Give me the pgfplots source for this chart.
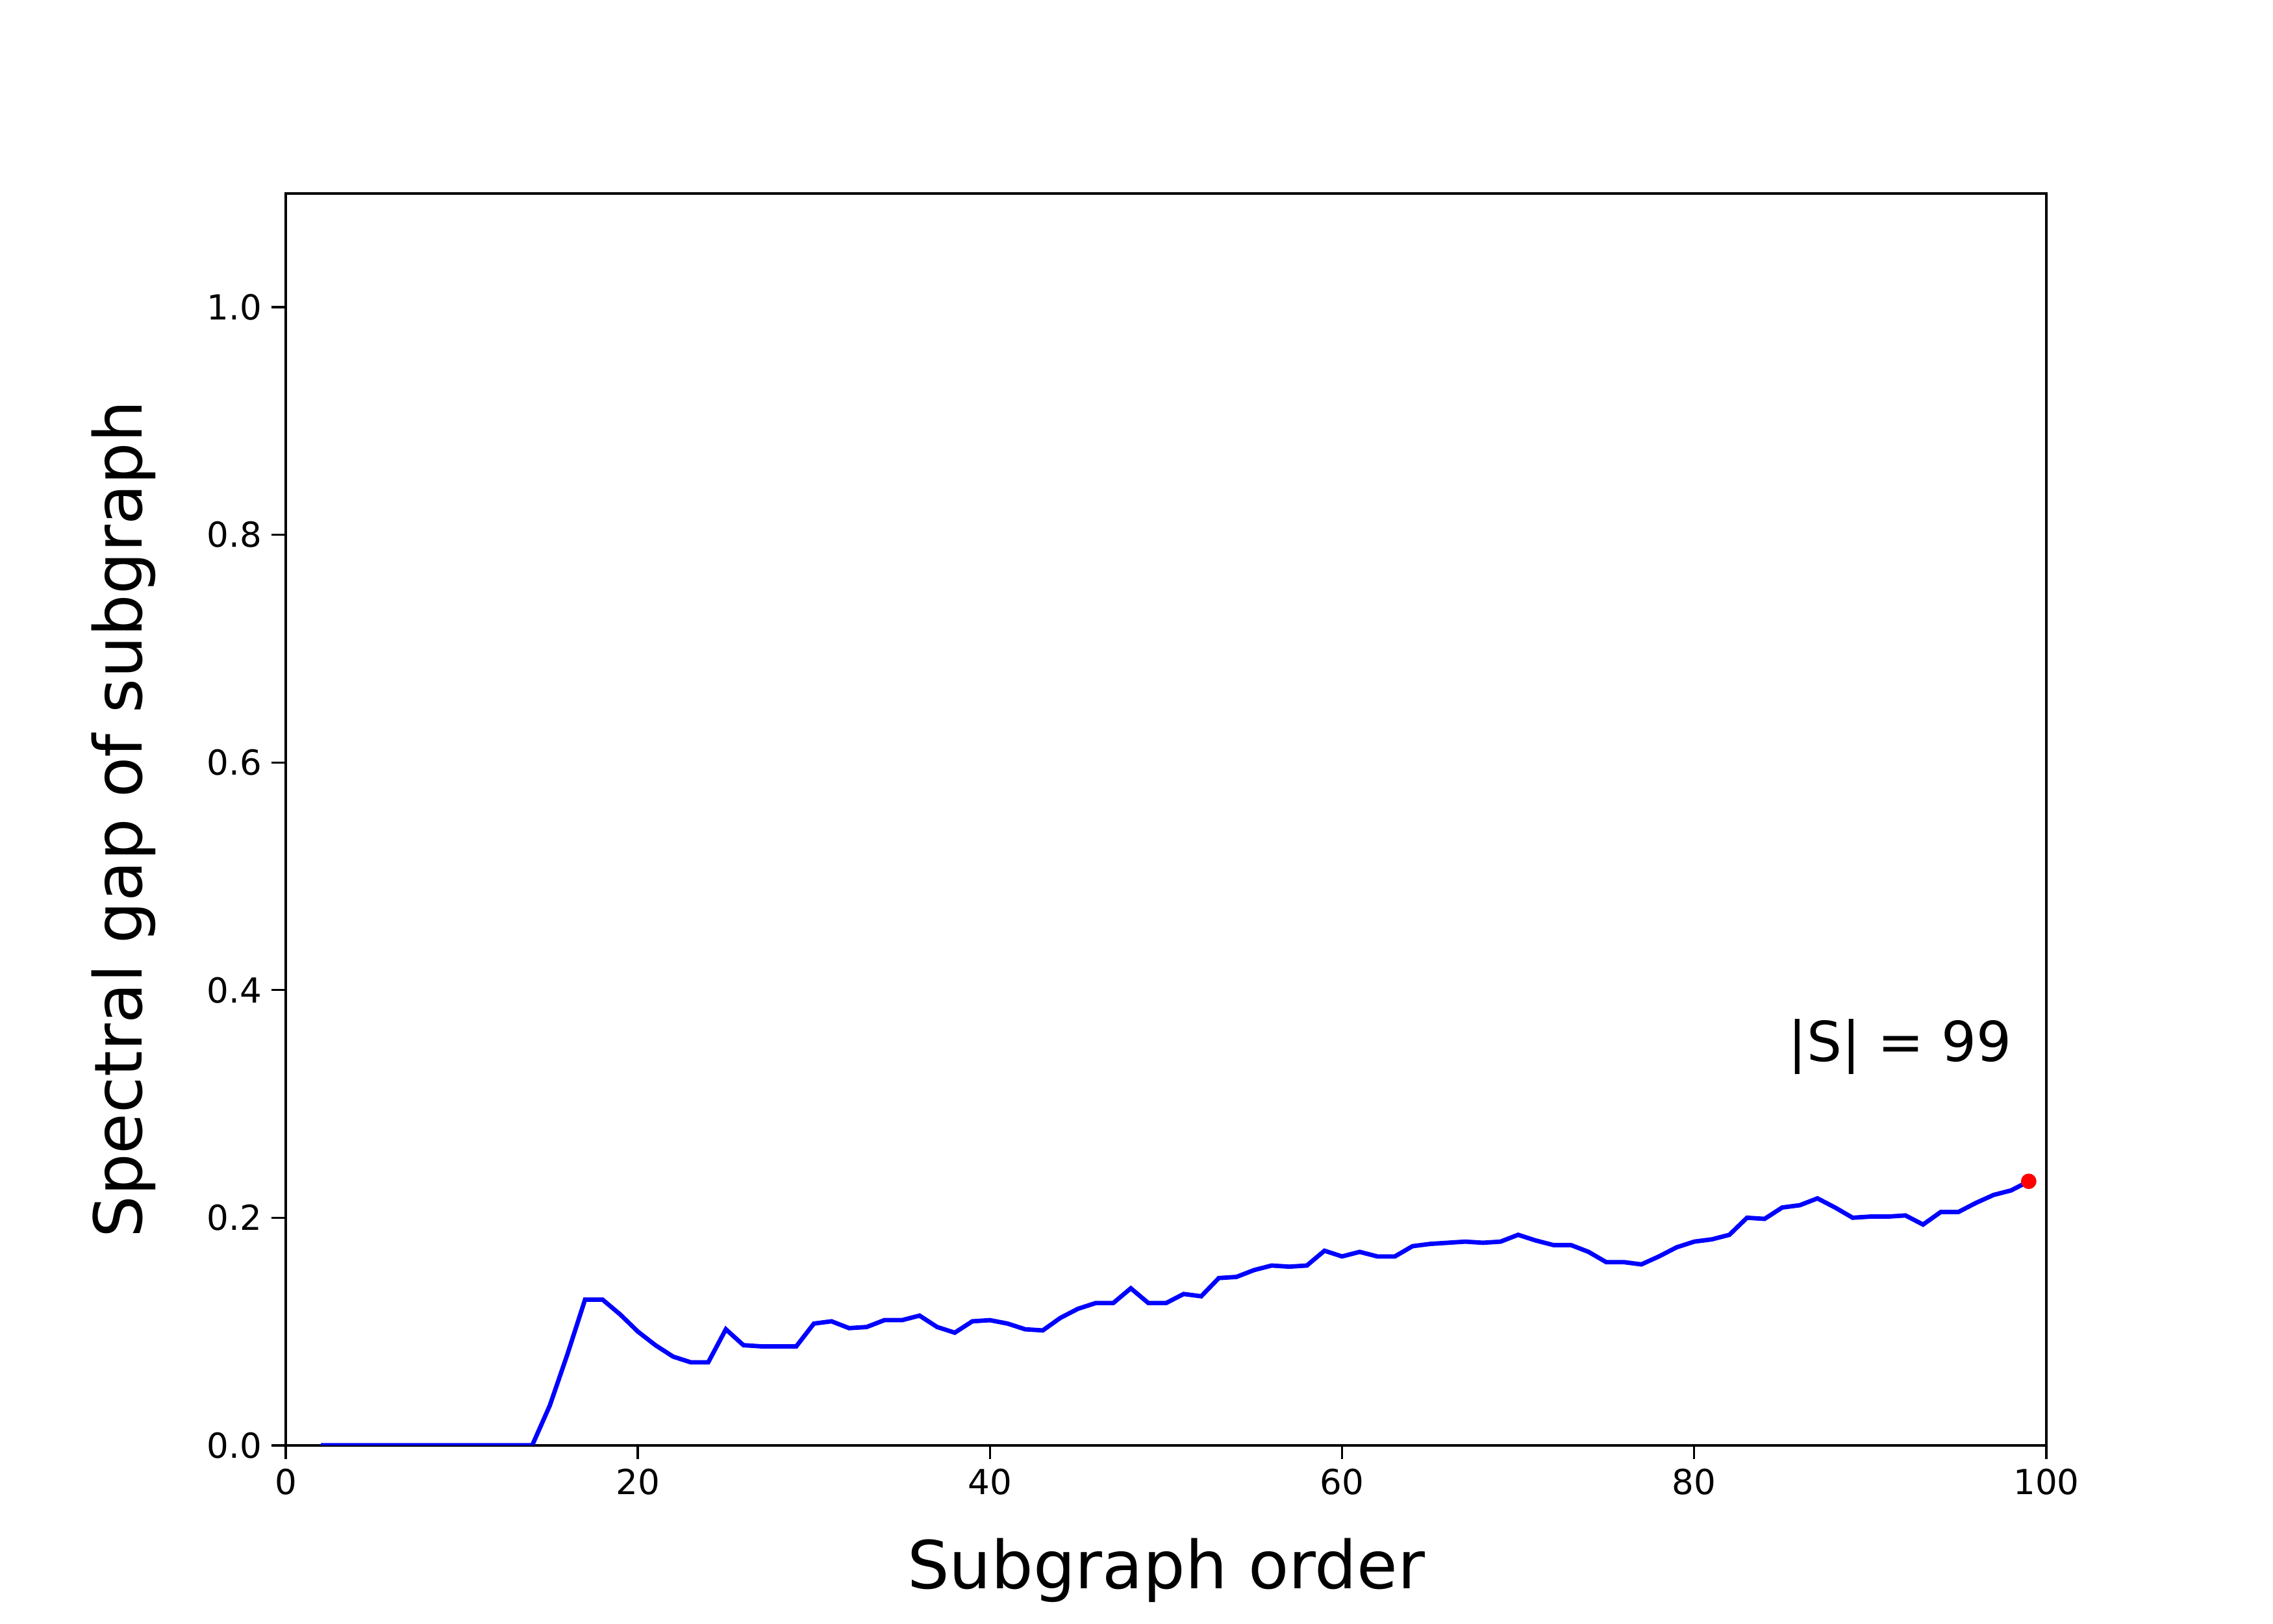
\documentclass[border=0pt]{standalone}
\usepackage{pgfplots}
\pgfplotsset{compat=1.18}
\usepackage{fontspec}
\setmainfont{DejaVu Sans}
\begin{document}
\begin{tikzpicture}
\useasboundingbox (-1.433in,-0.893in) rectangle (9.967in,7.25in);
\begin{axis}[
  at={(0,0)}, anchor=south west, scale only axis,
  width=8.83in, height=6.28in,
  xmin=0, xmax=100, ymin=0, ymax=1.1,
  xtick={0,20,40,60,80,100}, ytick={0,0.2,0.4,0.6,0.8,1.0},
  yticklabel style={/pgf/number format/.cd,fixed,fixed zerofill,precision=1},
  /pgf/number format/assume math mode=true,
  tick align=outside, xtick pos=bottom, ytick pos=left,
  major tick length=0.07in,
  tick label style={font=\fontsize{12.5}{14}\selectfont},
  axis line style={line width=0.8pt}, tick style={line width=0.8pt, black},
  xlabel={Subgraph order}, ylabel={Spectral gap of subgraph},
  label style={font=\fontsize{24}{28}\selectfont},
  xlabel style={at={(axis description cs:0.5,-0.1)}, anchor=center},
  ylabel style={at={(axis description cs:-0.092,0.5)}, anchor=center},
]
\addplot[blue, line width=1.6pt] coordinates {
(2,0)(3,0)(4,0)(5,0)(6,0)(7,0)(8,0)(9,0)(10,0)(11,0)(12,0)(13,0)(14,0)
(15,0.035)(16,0.08)(17,0.128)(18,0.128)(19,0.115)(20,0.100)(21,0.088)(22,0.078)(23,0.073)(24,0.073)
(25,0.102)(26,0.088)(27,0.087)(28,0.087)(29,0.087)(30,0.107)(31,0.109)(32,0.103)(33,0.104)(34,0.110)
(35,0.110)(36,0.114)(37,0.104)(38,0.099)(39,0.109)(40,0.110)(41,0.107)(42,0.102)(43,0.101)(44,0.112)
(45,0.120)(46,0.125)(47,0.125)(48,0.138)(49,0.125)(50,0.125)(51,0.133)(52,0.131)(53,0.147)(54,0.148)
(55,0.154)(56,0.158)(57,0.157)(58,0.158)(59,0.171)(60,0.166)(61,0.170)(62,0.166)(63,0.166)(64,0.175)
(65,0.177)(66,0.178)(67,0.179)(68,0.178)(69,0.179)(70,0.185)(71,0.180)(72,0.176)(73,0.176)(74,0.170)
(75,0.161)(76,0.161)(77,0.159)(78,0.166)(79,0.174)(80,0.179)(81,0.181)(82,0.185)(83,0.200)(84,0.199)
(85,0.209)(86,0.211)(87,0.217)(88,0.209)(89,0.200)(90,0.201)(91,0.201)(92,0.202)(93,0.194)(94,0.205)
(95,0.205)(96,0.213)(97,0.220)(98,0.224)(99,0.232)};
\addplot[only marks, mark=*, red, mark size=2.6pt] coordinates {(99,0.232)};
\node[anchor=east, font=\fontsize{20}{24}\selectfont] at (axis cs:98.6,0.35) {|S| = 99};
\end{axis}
\end{tikzpicture}
\end{document}
